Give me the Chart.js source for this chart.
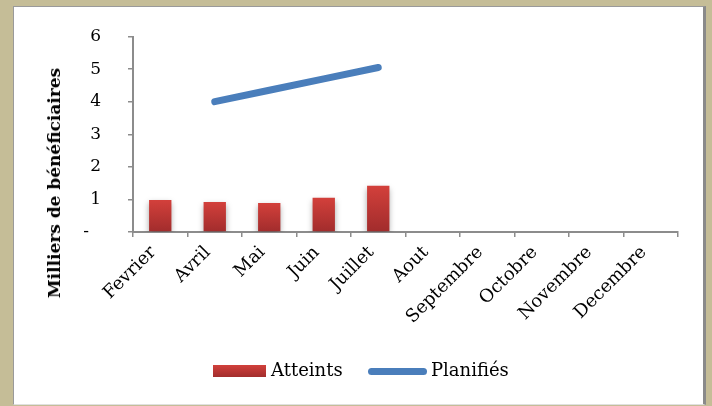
<!DOCTYPE html>
<html>
<head>
<meta charset="utf-8">
<script src="https://cdn.jsdelivr.net/npm/chart.js@4/dist/chart.umd.min.js"></script>
<style>
  html, body { margin: 0; padding: 0; }
  body { width: 712px; height: 406px; background: #c5bd97; position: relative; overflow: hidden; font-family: "DejaVu Serif", serif; }
  #panel {
    position: absolute; left: 13px; top: 6px; width: 689px; height: 397px;
    background: #fff; border-left: 1px solid #9a9a9a; border-top: 1px solid #9a9a9a;
    border-right: 3px solid #8a8a8a; border-bottom: 1px solid #e0e0e0;
  }
  #chart { position: absolute; left: 0; top: 0; }
  #ytitle {
    position: absolute; left: 40px; top: 176px; width: 0; height: 0;
  }
  #ytitle span {
    position: absolute; transform: translate(-50%, -50%) rotate(-90deg);
    white-space: nowrap; font-weight: bold; font-size: 17px; color: #000;
  }
  .legend { position: absolute; top: 352px; font-size: 18px; color: #000; line-height: 22px; }
  .legend .swatch { position: absolute; }
  #lg-bar { left: 199px; }
  #lg-bar .swatch { left: 0; top: 6px; width: 53px; height: 12px; background: linear-gradient(#d1403b, #a22d2d); }
  #lg-bar span { position: absolute; left: 58px; top: 0; }
  #lg-line { left: 354px; }
  #lg-line .swatch { left: 0; top: 9px; width: 59px; height: 7px; border-radius: 4px; background: #4a7ebb; }
  #lg-line span { position: absolute; left: 63px; top: 0; white-space: nowrap; }
</style>
</head>
<body>
<div id="panel">
  <canvas id="chart" width="689" height="397"></canvas>
  <div id="ytitle"><span>Milliers de bénéficiaires</span></div>
  <div class="legend" id="lg-bar"><div class="swatch"></div><span>Atteints</span></div>
  <div class="legend" id="lg-line"><div class="swatch"></div><span>Planifiés</span></div>
</div>
<script>
const months = ['Fevrier', 'Avril', 'Mai', 'Juin', 'Juillet', 'Aout', 'Septembre', 'Octobre', 'Novembre', 'Decembre'];
const atteints = [0.98, 0.92, 0.89, 1.05, 1.42, null, null, null, null, null];
const planifies = [null, 4.0, 4.35, 4.7, 5.05, null, null, null, null, null];
const yMin = 0;
const yMax = 6;

const axisGrey = '#8c8c8c';

// soft drop shadow under the red bars
const barShadow = {
  id: 'barShadow',
  beforeDatasetDraw(chart, args) {
    if (args.index !== 0) return;
    const c = chart.ctx;
    c.save();
    c.shadowColor = 'rgba(0,0,0,0.35)';
    c.shadowBlur = 6;
    c.shadowOffsetY = 3;
  },
  afterDatasetDraw(chart, args) {
    if (args.index === 0) chart.ctx.restore();
  }
};

function barGradient(context) {
  const chart = context.chart;
  if (!chart.chartArea || context.raw == null) return '#c83a36';
  const y = chart.scales.y;
  const top = y.getPixelForValue(context.raw);
  const bottom = y.getPixelForValue(0);
  const g = chart.ctx.createLinearGradient(0, top, 0, bottom);
  g.addColorStop(0, '#d3403b');
  g.addColorStop(1, '#a12c2c');
  return g;
}

new Chart(document.getElementById('chart'), {
  type: 'bar',
  data: {
    labels: months,
    datasets: [
      {
        label: 'Atteints',
        data: atteints,
        backgroundColor: barGradient,
        borderWidth: 0,
        categoryPercentage: 1,
        barPercentage: 0.41,
        order: 2
      },
      {
        type: 'line',
        label: 'Planifiés',
        data: planifies,
        borderColor: '#4a7ebb',
        borderWidth: 7,
        borderCapStyle: 'round',
        pointRadius: 0,
        fill: false,
        tension: 0,
        order: 1
      }
    ]
  },
  options: {
    responsive: false,
    animation: false,
    layout: { padding: { top: 29.5, right: 25, left: 0, bottom: 0 } },
    plugins: {
      legend: { display: false },
      tooltip: { enabled: false }
    },
    scales: {
      x: {
        grid: {
          offset: true,
          drawOnChartArea: false,
          drawTicks: true,
          tickLength: 5,
          color: axisGrey,
          lineWidth: 1.5
        },
        border: { color: axisGrey, width: 2 },
        ticks: {
          color: '#000',
          font: { family: 'DejaVu Serif', size: 18 },
          minRotation: 45,
          maxRotation: 45,
          autoSkip: false,
          padding: 5,
          labelOffset: -7
        },
        afterFit(scale) { scale.height = 172; }
      },
      y: {
        min: yMin,
        max: yMax,
        grid: {
          drawOnChartArea: false,
          drawTicks: true,
          tickLength: 5,
          color: axisGrey,
          lineWidth: 1.5
        },
        border: { color: axisGrey, width: 2 },
        ticks: {
          stepSize: 1,
          color: '#000',
          font: { family: 'DejaVu Serif', size: 17 },
          padding: 27,
          callback: (v) => v === 0 ? '-\u2002\u2009' : String(v)
        },
        afterFit(scale) {
          scale.width = 119;
          // the wide label gap is horizontal only; keep it out of the top/bottom padding
          scale.paddingTop = 10;
          scale.paddingBottom = 10;
        }
      }
    }
  },
  plugins: [barShadow]
});
</script>
</body>
</html>
